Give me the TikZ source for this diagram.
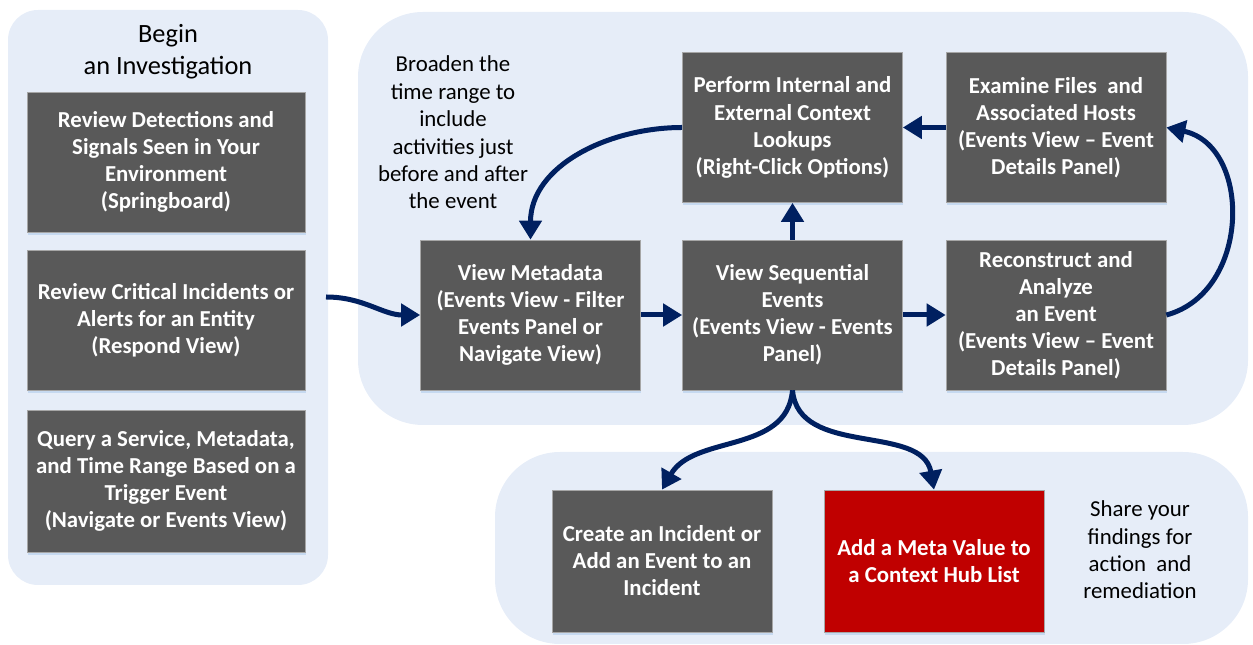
\documentclass[tikz,border=0pt]{standalone}
\usepackage{fontspec}
\setmainfont{Carlito}
\usetikzlibrary{arrows.meta, shadows}
\definecolor{panelblue}{HTML}{E6EDF8}
\definecolor{boxgray}{HTML}{595959}
\definecolor{boxred}{HTML}{C00000}
\definecolor{navy}{HTML}{002060}
\definecolor{shadowblue}{HTML}{C6D9F0}
\tikzset{
    panel/.style={
        fill=panelblue,
        draw=none
    },
    stepbox/.style={
        rectangle,
        draw=gray!70,
        line width=0.4pt,
        fill=boxgray,
        text=white,
        align=center,
        inner sep=2pt,
        minimum width=4.4cm,
        minimum height=3cm,
        font=\fontsize{13}{15.4}\selectfont\bfseries,
        drop shadow={shadow xshift=0.4pt, shadow yshift=-1.7pt, fill=shadowblue, opacity=1}
    },
    flow/.style={
        -{Triangle[length=0.38cm,width=0.44cm]},
        line width=0.1cm,
        draw=navy
    },
    note/.style={
        align=center,
        font=\fontsize{13}{15.6}\selectfont
    }
}

\begin{document}
\begin{tikzpicture}[x=0.02cm, y=0.02cm]
            \useasboundingbox (0,0) rectangle (1253,645);

            % Panels
            \draw[panel, rounded corners=0.6cm] (8,60) rectangle (328,635);
            \draw[panel, rounded corners=1.3cm] (358,220) rectangle (1248,633);
            \draw[panel, rounded corners=1.3cm] (495,1) rectangle (1248,193);

            % Start of an investigation
            \node[align=center, font=\fontsize{15}{18.2}\selectfont] (begin) at (168,593)
                {Begin\\an Investigation};
            \node[stepbox, minimum width=5.56cm, minimum height=2.8cm] (review) at (166,483)
                {Review Detections and\\Signals Seen in Your\\Environment\\(Springboard)};
            \node[stepbox, minimum width=5.56cm, minimum height=2.8cm] (critical) at (166,325)
                {Review Critical Incidents or\\Alerts for an Entity\\(Respond View)};
            \node[stepbox, minimum width=5.56cm, minimum height=2.84cm] (query) at (166,164)
                {Query a Service, Metadata,\\and Time Range Based on a\\Trigger Event\\(Navigate or Events View)};

            % Investigation loop
            \node[stepbox] (metadata) at (530.5,330)
                {View Metadata\\(Events View - Filter\\Events Panel or\\Navigate View)};
            \node[stepbox] (sequential) at (792.5,330)
                {View Sequential\\Events\\(Events View - Events\\Panel)};
            \node[stepbox] (reconstruct) at (1056,330)
                {Reconstruct and\\Analyze\\an Event\\(Events View -- Event\\Details Panel)};
            \node[stepbox] (lookups) at (792.5,517.5)
                {Perform Internal and\\External Context\\Lookups\\(Right-Click Options)};
            \node[stepbox] (examine) at (1056,517.5)
                {Examine Files\ \ and\\Associated Hosts\\(Events View -- Event\\Details Panel)};
            \node[note] (broaden) at (453,512.5)
                {Broaden the\\time range to\\include\\activities just\\before and after\\the event};

            % Sharing
            \node[stepbox, minimum height=2.84cm] (incident) at (662,84)
                {Create an Incident or\\Add an Event to an\\Incident};
            \node[stepbox, fill=boxred, minimum height=2.84cm] (metavalue) at (934,84)
                {Add a Meta Value to\\a Context Hub List};
            \node[note] (share) at (1140,95)
                {Share your\\findings for\\action\ \ and\\remediation};

            % Arrows
            \coordinate (leftout) at (326,348);
            \draw[flow] (leftout) to[out=0, in=180] (metadata.west);
            \draw[flow] (metadata) -- (sequential);
            \draw[flow] (sequential) -- (reconstruct);
            \draw[flow] (sequential) -- (lookups);
            \draw[flow] (examine) -- (lookups);
            \draw[flow] (lookups.west) to[out=180, in=90] (metadata.north);
            \draw[flow] (reconstruct.east) to[out=15, in=-12, looseness=1.2] (examine.east);
            \draw[flow] (sequential.south) to[out=-95, in=60] (incident.north);
            \draw[flow] (sequential.south) to[out=-85, in=100] (metavalue.north);
\end{tikzpicture}
\end{document}
